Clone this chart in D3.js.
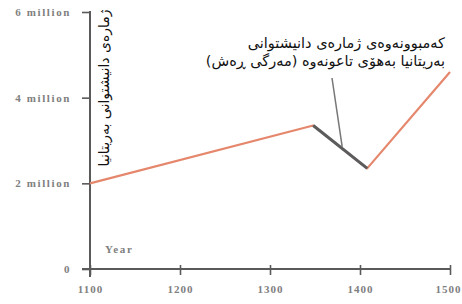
<!DOCTYPE html>
<html>
<head>
<meta charset="utf-8">
<script src="https://cdn.jsdelivr.net/npm/d3@7"></script>
<style>
  body { margin: 0; background: #fff; }
  svg { display: block; }
</style>
</head>
<body>
<svg id="chart" width="462" height="304"></svg>
<script>
// population of Britain (millions)
const years = [1100, 1348, 1408, 1500];
const population = [2.0, 3.35, 2.35, 4.6];
const blackDeathFrom = 1348, blackDeathTo = 1408;

const xTicks = [1100, 1200, 1300, 1400, 1500];
const yTicks = [0, 2, 4, 6];
const yTickLabels = ['0', '2 million', '4 million', '6 million'];

const yTitle = 'ژمارەی دانیشتوانی بەریتانیا';
const noteLines = ['کەمبوونەوەی ژمارەی دانیشتوانی', 'بەریتانیا بەهۆی تاعونەوە (مەرگی ڕەش)'];

let svg = d3.select('#chart');

let x = d3.scaleLinear().domain([1100, 1500]).range([90, 450]);
let y = d3.scaleLinear().domain([0, 6]).range([269, 12]);

let axisColor = '#5a5a5a';
let labelColor = '#808080';

function serifLabel(sel, spacing) {
  sel.attr('fill', labelColor)
    .style('font-family', '"Liberation Serif", serif')
    .style('font-size', '11px')
    .style('font-weight', 'bold')
    .style('letter-spacing', (spacing || 1.6) + 'px');
}

// y axis
let yAxis = svg.append('g').attr('transform', 'translate(90,0)')
  .call(d3.axisLeft(y).tickValues(yTicks).tickSize(8).tickPadding(11)
    .tickFormat((d, i) => yTickLabels[i]));
yAxis.select('.domain').remove();
yAxis.selectAll('line').attr('stroke', axisColor).attr('stroke-width', 1.6);
yAxis.selectAll('text').call(serifLabel);

svg.append('line')
  .attr('x1', 90).attr('x2', 90).attr('y1', 11).attr('y2', 277)
  .attr('stroke', axisColor).attr('stroke-width', 2);

// x axis
let xAxis = svg.append('g').attr('transform', 'translate(0,269)')
  .call(d3.axisBottom(x).tickValues(xTicks).tickSize(6).tickPadding(10)
    .tickFormat(d3.format('d')));
xAxis.select('.domain').remove();
xAxis.selectAll('line').attr('stroke', axisColor).attr('stroke-width', 1.6).attr('y1', -4);
xAxis.selectAll('text').call(serifLabel, 1);
xAxis.selectAll('text').filter(d => d === 1500).attr('text-anchor', 'end').attr('x', 11);

svg.append('line')
  .attr('x1', 82).attr('x2', x(1500)).attr('y1', 269).attr('y2', 269)
  .attr('stroke', axisColor).attr('stroke-width', 2);

svg.append('text')
  .attr('x', 105).attr('y', 253)
  .call(serifLabel)
  .text('Year');

// y title, rotated
svg.append('text')
  .attr('transform', 'translate(109,88) rotate(-90)')
  .attr('text-anchor', 'middle')
  .attr('direction', 'rtl')
  .attr('fill', '#111')
  .style('font-family', '"DejaVu Sans", sans-serif')
  .style('font-size', '14px')
  .text(yTitle);

// population line
let pts = years.map((yr, i) => ({ year: yr, value: population[i] }));
let line = d3.line().x(d => x(d.year)).y(d => y(d.value));

svg.append('path')
  .datum(pts)
  .attr('d', line)
  .attr('fill', 'none')
  .attr('stroke', '#e5876c')
  .attr('stroke-width', 2.2)
  .attr('stroke-linejoin', 'round');

let dark = pts.filter(d => d.year >= blackDeathFrom && d.year <= blackDeathTo);
svg.append('path')
  .datum(dark)
  .attr('d', line)
  .attr('fill', 'none')
  .attr('stroke', '#5c5c5c')
  .attr('stroke-width', 3)
  .attr('stroke-linejoin', 'round');

// annotation
let mid = (blackDeathFrom + blackDeathTo) / 2;
let midVal = (population[1] + population[2]) / 2;
svg.append('line')
  .attr('x1', 332).attr('y1', 78)
  .attr('x2', x(mid) + 2).attr('y2', y(midVal))
  .attr('stroke', '#777').attr('stroke-width', 1.5);

svg.append('text')
  .attr('direction', 'rtl')
  .attr('text-anchor', 'start')
  .attr('fill', '#111')
  .style('font-family', '"DejaVu Sans", sans-serif')
  .style('font-size', '14.5px')
  .selectAll('tspan')
  .data(noteLines)
  .join('tspan')
  .attr('x', 445)
  .attr('y', (d, i) => 48 + i * 18)
  .text(d => d);
</script>
</body>
</html>
